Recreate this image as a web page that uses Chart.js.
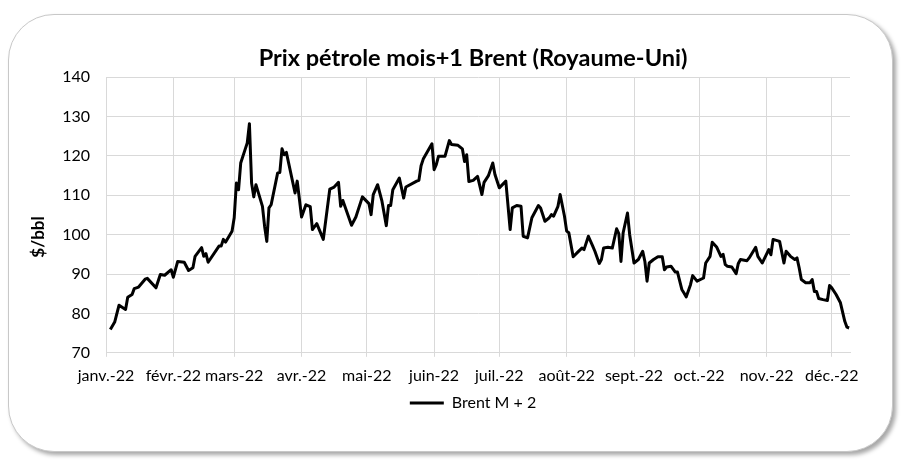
<!DOCTYPE html>
<html>
<head>
<meta charset="utf-8">
<script src="https://cdn.jsdelivr.net/npm/chart.js@4.4.1/dist/chart.umd.min.js"></script>
<style>
    body { margin: 0; background: #fff; }
    #frame {
        position: absolute; left: 8px; top: 14px; width: 883px; height: 436px;
        border: 1.5px solid #c8c8c8; border-radius: 46px; background: #fff;
        box-shadow: 3px 3px 4px rgba(0, 0, 0, 0.35);
    }
    #wrap { position: absolute; left: 0; top: 0; width: 905px; height: 469px; }
</style>
</head>
<body>
<div id="frame"></div>
<div id="wrap"><canvas id="brentChart" width="905" height="469"></canvas></div>
<script>
        // --- data (days counted from 1 Jan 2022) ---

        const monthLabels = ['janv.-22', 'févr.-22', 'mars-22', 'avr.-22', 'mai-22', 'juin-22',
            'juil.-22', 'août-22', 'sept.-22', 'oct.-22', 'nov.-22', 'déc.-22'];

        const days = [
            2, 4, 6, 9, 10, 12, 13, 15, 18, 19, 23, 25, 27, 30, 31, 33, 36, 38, 40, 41,
            44, 45, 46, 47, 52, 53, 54, 55, 58, 59, 60, 61, 62, 64, 65, 66, 67, 68, 69, 72,
            73, 74, 75, 76, 79, 80, 81, 82, 83, 87, 88, 90, 92, 94, 95, 97, 100, 103, 105, 107,
            108, 109, 113, 115, 118, 121, 122, 123, 125, 127, 129, 130, 131, 132, 135, 137, 138, 143, 144, 145,
            146, 150, 151, 152, 153, 156, 158, 159, 162, 164, 165, 166, 167, 169, 171, 173, 174, 176, 178, 179,
            181, 184, 186, 187, 189, 191, 192, 194, 196, 199, 200, 202, 204, 205, 206, 208, 209, 211, 212, 213,
            215, 217, 219, 220, 222, 224, 225, 227, 228, 229, 231, 233, 235, 236, 237, 238, 240, 241, 243, 245,
            247, 248, 249, 250, 252, 254, 256, 257, 258, 260, 262, 263, 265, 266, 267, 269, 270, 272, 275, 276,
            278, 279, 281, 283, 284, 285, 286, 288, 290, 291, 292, 295, 296, 299, 300, 302, 305, 306, 307, 310,
            312, 313, 315, 317, 318, 319, 320, 322, 324, 325, 326, 327, 328, 330, 332, 333, 334, 336, 338, 340,
            341, 342
        ];

        const brentM2 = [
            75.9, 77.8, 82.1, 81.0, 84.1, 84.8, 86.3, 86.7, 88.7, 88.9, 86.5, 89.9, 89.7, 91.1, 89.2, 93.2, 93.0, 90.9, 91.6, 94.5,
            96.7, 94.5, 95.2, 93.0, 97.1, 97.1, 98.8, 98.1, 100.9, 104.3, 113.1, 111.4, 118.2, 121.6, 123.3, 128.2, 113.1, 109.6, 112.7, 107.2,
            102.1, 98.3, 106.8, 107.6, 115.7, 115.8, 121.8, 120.3, 120.9, 110.6, 113.6, 104.5, 107.6, 107.1, 101.3, 102.8, 98.8, 111.6, 112.1, 113.3,
            107.2, 108.7, 102.4, 104.5, 109.6, 107.9, 105.1, 110.2, 112.7, 108.5, 102.3, 107.4, 107.4, 111.4, 114.4, 109.3, 112.1, 113.6, 113.8, 117.5,
            119.2, 123.1, 116.5, 117.8, 119.9, 119.9, 123.9, 122.9, 122.7, 121.8, 118.6, 120.3, 113.5, 113.8, 114.8, 110.2, 113.3, 115.0, 118.2, 115.3,
            111.9, 113.6, 101.3, 106.8, 107.4, 107.2, 99.6, 99.2, 104.3, 107.4, 106.8, 103.4, 104.3, 105.1, 104.7, 107.2, 110.2, 104.7, 100.9, 100.5,
            94.4, 95.5, 96.6, 96.2, 99.6, 97.1, 95.8, 92.7, 93.7, 96.6, 96.8, 96.6, 101.5, 100.3, 93.2, 100.5, 105.5, 100.0, 92.8, 93.7,
            95.8, 93.2, 88.2, 92.8, 93.7, 94.4, 94.4, 91.1, 91.8, 92.0, 90.5, 90.5, 86.1, 85.2, 84.2, 87.3, 89.6, 88.2, 89.0, 92.8,
            94.5, 98.1, 96.9, 94.5, 95.0, 92.4, 92.0, 91.8, 90.1, 92.7, 93.7, 93.4, 94.1, 96.8, 94.5, 92.8, 96.2, 94.9, 98.8, 98.3,
            92.8, 95.8, 94.5, 93.7, 94.1, 91.6, 88.6, 87.8, 87.8, 88.6, 85.6, 85.6, 83.8, 83.5, 83.3, 87.1, 86.5, 84.8, 82.7, 78.0,
            76.5, 76.3
        ];

        const yTicks = [70, 80, 90, 100, 110, 120, 130, 140];

        // month start positions on the day axis
        const monthStarts = monthLabels.map((_, i) => (Date.UTC(2022, i, 1) - Date.UTC(2022, 0, 1)) / 864e5);

        const gridColor = '#d9d9d9';
        const fontFamily = 'Lato, "Liberation Sans", sans-serif';

        // y axis title drawn a bit below the middle, like the original
        const yTitlePlugin = {
            id: 'yTitle',
            afterDraw(chart) {
                const { ctx, chartArea } = chart;
                ctx.save();
                ctx.translate(chartArea.left - 67, (chartArea.top + chartArea.bottom) / 2 + 22);
                ctx.rotate(-Math.PI / 2);
                ctx.font = 'bold 17px ' + fontFamily;
                ctx.fillStyle = '#000';
                ctx.textAlign = 'center';
                ctx.textBaseline = 'middle';
                ctx.fillText('$/bbl', 0, 0);
                ctx.restore();
            }
        };

        new Chart(document.getElementById('brentChart'), {
            type: 'line',
            data: {
                datasets: [{
                    label: 'Brent M + 2',
                    data: days.map((d, i) => ({ x: d, y: brentM2[i] })),
                    borderColor: '#000',
                    backgroundColor: '#000',
                    borderWidth: 3,
                    pointRadius: 0,
                    tension: 0,
                    borderJoinStyle: 'round'
                }]
            },
            options: {
                responsive: false,
                animation: false,
                layout: { padding: { left: 41, right: 0, top: 0, bottom: 48 } },
                scales: {
                    x: {
                        type: 'linear',
                        min: 0,
                        max: 342.4,
                        afterBuildTicks: (axis) => { axis.ticks = monthStarts.map(v => ({ value: v })); },
                        ticks: {
                            autoSkip: false,
                            maxRotation: 0,
                            padding: 9,
                            color: '#000',
                            font: { family: fontFamily, size: 16 },
                            callback: (value, index) => monthLabels[index]
                        },
                        grid: { color: gridColor, tickLength: 4 },
                        border: { color: gridColor }
                    },
                    y: {
                        min: 70,
                        max: 140,
                        afterBuildTicks: (axis) => { axis.ticks = yTicks.map(v => ({ value: v })); },
                        afterFit: (axis) => { axis.width = 65; },
                        ticks: {
                            padding: 16,
                            color: '#000',
                            font: { family: fontFamily, size: 16 }
                        },
                        grid: { color: gridColor, drawTicks: false },
                        border: { color: gridColor }
                    },
                    // empty right-hand box so the plot ends where the original does
                    spacer: {
                        position: 'right',
                        min: 0,
                        max: 1,
                        afterFit: (axis) => { axis.width = 55; },
                        ticks: { display: false },
                        grid: { display: false },
                        border: { display: false }
                    }
                },
                plugins: {
                    title: {
                        display: true,
                        text: 'Prix pétrole mois+1 Brent (Royaume-Uni)',
                        color: '#000',
                        font: { family: fontFamily, size: 23.5, weight: 'bold' },
                        padding: { top: 44, bottom: 5 }
                    },
                    legend: {
                        position: 'bottom',
                        labels: {
                            usePointStyle: true,
                            pointStyle: 'line',
                            pointStyleWidth: 34,
                            padding: 1,
                            color: '#000',
                            font: { family: fontFamily, size: 16 }
                        }
                    },
                    tooltip: { enabled: false }
                }
            },
            plugins: [yTitlePlugin]
        });
</script>
</body>
</html>
